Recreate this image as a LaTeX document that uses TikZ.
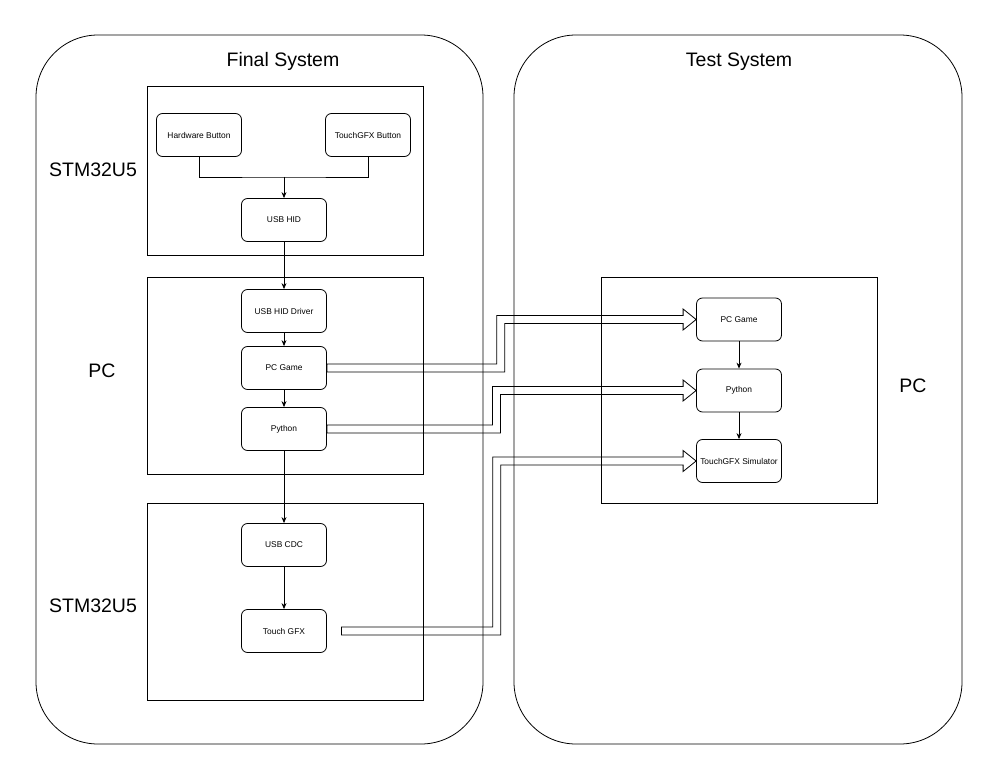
\documentclass[tikz,border=0pt]{standalone}
\usepackage{fontspec}
\setmainfont{Liberation Sans}
\usetikzlibrary{arrows.meta,calc}
\tikzset{
  block/.style={draw, rounded corners=6pt, minimum width=85pt, minimum height=43pt,
    inner sep=1pt, font=\fontsize{8.4}{10}\selectfont},
  big/.style={anchor=base, inner sep=0pt, font=\fontsize{19.5}{22}\selectfont},
  fatarrow/.style={draw, line join=miter}
}
% hollow double-line arrow: from, turn point, target
\def\hw{4pt}
\def\hh{10.5pt}
\def\hl{13pt}
\newcommand{\widearrow}[3]{%
  \draw[fatarrow] let \p1=(#1), \p2=(#2), \p3=(#3) in
    (\x1,\y1+\hw) -- (\x2-\hw,\y1+\hw) -- (\x2-\hw,\y3+\hw) -- (\x3-\hl,\y3+\hw)
    -- (\x3-\hl,\y3+\hh) -- (\x3,\y3) -- (\x3-\hl,\y3-\hh) -- (\x3-\hl,\y3-\hw)
    -- (\x2+\hw,\y3-\hw) -- (\x2+\hw,\y1-\hw) -- (\x1,\y1-\hw) -- cycle;}
\begin{document}
\begin{tikzpicture}[x=1pt, y=-1pt, line width=0.8pt, >={Stealth[length=6pt,width=5pt]}]
\useasboundingbox (0,0) rectangle (999,781);
%systems
\draw[rounded corners=62pt] (36,35) rectangle (483,744);
\draw[rounded corners=62pt] (514,35) rectangle (962,744);
\node[big] (finalsys) at (283,67) {Final System};
\node[big] (testsys) at (739,67) {Test System};
%groups
\draw (147,86) rectangle (423,255);
\draw (147,277) rectangle (423,474);
\draw (147,503) rectangle (423,700);
\draw (601,277) rectangle (877,503);
\node[big] (stmA) at (93,177) {STM32U5};
\node[big] (pcA) at (102,377) {PC};
\node[big] (stmB) at (93,612) {STM32U5};
\node[big] (pcB) at (913,392) {PC};
%blocks
\node[block] (hwbtn) at (199,135) {Hardware Button};
\node[block] (tgfxbtn) at (368,135) {TouchGFX Button};
\node[block] (usbhid) at (284,220) {USB HID};
\node[block] (hiddrv) at (284,311) {USB HID Driver};
\node[block] (gameA) at (284,368) {PC Game};
\node[block] (pyA) at (284,429) {Python};
\node[block] (cdc) at (284,545) {USB CDC};
\node[block] (tgfx) at (284,631) {Touch GFX};
\node[block] (gameB) at (739,319.5) {PC Game};
\node[block] (pyB) at (739,390.5) {Python};
\node[block] (sim) at (739,461) {TouchGFX Simulator};
%thin arrows
\coordinate (merge) at (284,177);
\draw (hwbtn.south) |- (merge) -| (tgfxbtn.south);
\draw[->] (merge) -- (usbhid.north);
\draw[->] (usbhid.south) -- (hiddrv.north);
\foreach \a/\b in {hiddrv/gameA, gameA/pyA, pyA/cdc, cdc/tgfx, gameB/pyB, pyB/sim}
  \draw[->] (\a.south) -- (\b.north);
%wide arrows
\coordinate (turnA) at (500.7,0);
\coordinate (turnB) at (496.5,0);
\coordinate (turnC) at (496.7,0);
\coordinate (tgfxout) at ($(tgfx.east)+(14.5,0)$);
\widearrow{gameA.east}{turnA}{gameB.west}
\widearrow{pyA.east}{turnB}{pyB.west}
\widearrow{tgfxout}{turnC}{sim.west}
\end{tikzpicture}
\end{document}
